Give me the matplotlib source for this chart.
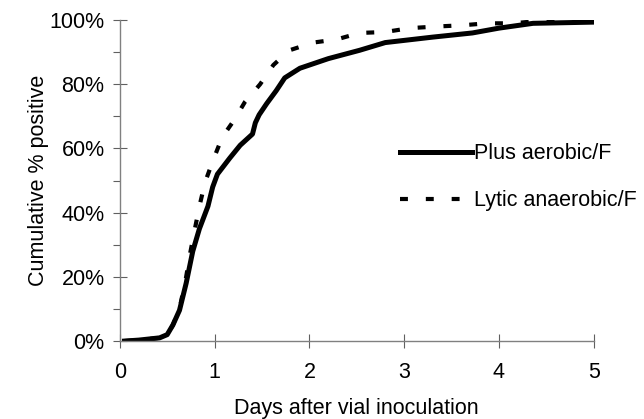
import matplotlib
matplotlib.use("Agg")
import matplotlib.pyplot as plt
from matplotlib.ticker import MultipleLocator, FuncFormatter

# days after vial inoculation vs cumulative % positive
plus_days = [0.05, 0.2, 0.42, 0.5, 0.56, 0.63, 0.70, 0.77, 0.84, 0.93, 0.98, 1.03,
             1.16, 1.27, 1.40, 1.43, 1.47, 1.55, 1.65, 1.74, 1.90, 2.0, 2.2, 2.53,
             2.8, 3.3, 3.72, 4.0, 4.36, 4.7, 5.05]
plus_pct = [0, 0.3, 1, 2, 5, 9.6, 18, 28, 35, 42, 48, 52,
            57, 61, 64.5, 68, 70.5, 74, 78, 82, 85, 86, 88, 90.6,
            93, 94.7, 96, 97.5, 99, 99.2, 99.4]

lytic_days = [0.05, 0.2, 0.42, 0.5, 0.56, 0.63, 0.70, 0.74, 0.79, 0.84, 0.90, 0.98,
              1.08, 1.21, 1.32, 1.48, 1.62, 1.79, 2.04, 2.29, 2.53, 2.8, 3.06,
              3.34, 3.62, 3.87, 4.15, 4.4, 4.7, 5.05]
lytic_pct = [0, 0.3, 1, 2, 5, 10, 20, 27, 34.6, 42, 49.5, 56,
             63.5, 69, 74.5, 80, 86, 90.6, 93, 94, 96, 96.3, 97.5,
             98, 98.4, 99, 99, 99.7, 99.8, 100]

plt.rcParams["font.family"] = ["Liberation Sans", "DejaVu Sans"]
FS = 15.5

fig = plt.figure(figsize=(6.44, 4.19), dpi=100)
ax = fig.add_axes([0.186, 0.186, 0.736, 0.766])

ax.plot(plus_days, plus_pct, color="black", linewidth=3.6,
        solid_joinstyle="round", label="Plus aerobic/F")
ax.plot(lytic_days, lytic_pct, color="black", linewidth=3.0,
        linestyle=(0, (1.9, 4.3)), label="Lytic anaerobic/F")

ax.set_xlim(0, 5)
ax.set_ylim(0, 100)
ax.xaxis.set_major_locator(MultipleLocator(1))
ax.yaxis.set_major_locator(MultipleLocator(20))
ax.yaxis.set_minor_locator(MultipleLocator(10))
ax.yaxis.set_major_formatter(FuncFormatter(lambda v, _: f"{v:.0f}%"))

for s in ("top", "right"):
    ax.spines[s].set_visible(False)
for s in ("left", "bottom"):
    ax.spines[s].set_color("#808080")
    ax.spines[s].set_linewidth(1.0)

ax.tick_params(axis="both", which="major", direction="inout", length=10,
               width=0.8, color="#606060", labelsize=FS)
ax.tick_params(axis="y", which="major", pad=6)
ax.tick_params(axis="y", which="minor", direction="out", length=5,
               width=0.8, color="#606060")
ax.tick_params(axis="x", pad=10)

ax.set_xlabel("Days after vial inoculation", fontsize=FS, labelpad=11)
ax.set_ylabel("Cumulative % positive", fontsize=FS, labelpad=0)

fig.legend(*ax.get_legend_handles_labels(), loc="center left",
           bbox_to_anchor=(0.621, 0.577), frameon=False, fontsize=FS,
           handlelength=3.35, handletextpad=0.1, labelspacing=1.2,
           borderpad=0, borderaxespad=0)

fig.savefig("out.png", dpi=100)
